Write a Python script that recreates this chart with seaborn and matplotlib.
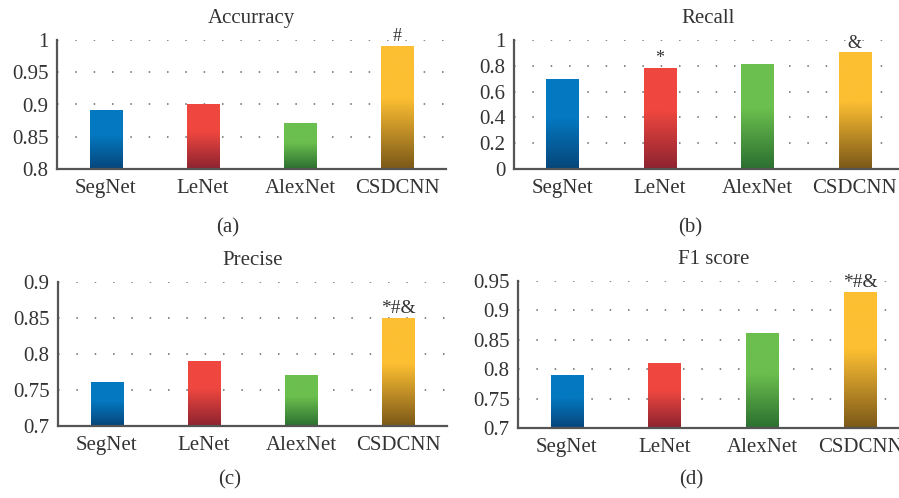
import numpy as np
import pandas as pd
import matplotlib
matplotlib.use("Agg")
import matplotlib.pyplot as plt
import seaborn as sns
from matplotlib.colors import to_rgb

# Model names and scores for each metric
models = ["SegNet", "LeNet", "AlexNet", "CSDCNN"]
accuracy = [0.89, 0.90, 0.87, 0.99]
recall = [0.69, 0.78, 0.81, 0.90]
precise = [0.76, 0.79, 0.77, 0.85]
f1_score = [0.79, 0.81, 0.86, 0.93]

# Significance marks above bars (per metric, per model)
acc_marks = ["", "", "", "#"]
rec_marks = ["", "*", "", "&"]
pre_marks = ["", "", "", "*#&"]
f1_marks = ["", "", "", "*#&"]

# Y-axis ticks per metric
acc_ticks = [0.8, 0.85, 0.9, 0.95, 1.0]
acc_tick_labels = ["0.8", "0.85", "0.9", "0.95", "1"]
rec_ticks = [0, 0.2, 0.4, 0.6, 0.8, 1.0]
rec_tick_labels = ["0", "0.2", "0.4", "0.6", "0.8", "1"]
pre_ticks = [0.7, 0.75, 0.8, 0.85, 0.9]
pre_tick_labels = ["0.7", "0.75", "0.8", "0.85", "0.9"]
f1_ticks = [0.7, 0.75, 0.8, 0.85, 0.9, 0.95]
f1_tick_labels = ["0.7", "0.75", "0.8", "0.85", "0.9", "0.95"]

# Top (light) and bottom (dark) colours of each bar's gradient
top_colors = ["#0479c1", "#ef473f", "#6bbf4e", "#fdbf32"]
bottom_colors = ["#06457a", "#8d2330", "#2b6f30", "#7b5819"]

sns.set_theme(style="white")
plt.rcParams["font.family"] = ["Liberation Serif", "DejaVu Serif"]
plt.rcParams["text.color"] = "#333333"
plt.rcParams["xtick.color"] = "#333333"
plt.rcParams["ytick.color"] = "#333333"

fig = plt.figure(figsize=(8.99, 4.98), dpi=100)
W, H = 899.0, 498.0
FS = 15


def axes_px(left, right, top, bottom):
    return fig.add_axes([left / W, 1 - bottom / H, (right - left) / W, (bottom - top) / H])


def gradient_fill(ax, ylo):
    for i, p in enumerate(ax.patches):
        x0, w = p.get_x(), p.get_width()
        top = p.get_y() + p.get_height()
        base = max(p.get_y(), ylo)
        n = 200
        t = np.linspace(0, 1, n)[:, None]
        ramp = np.clip(t / 0.58, 0, 1)
        c0 = np.array(to_rgb(bottom_colors[i]))
        c1 = np.array(to_rgb(top_colors[i]))
        img = (c0 + (c1 - c0) * ramp)[:, None, :]
        ax.imshow(img, extent=[x0, x0 + w, base, top], origin="lower",
                  aspect="auto", zorder=2, interpolation="bilinear")
        p.set_facecolor("none")
        p.set_edgecolor("none")


def panel(ax, values, marks, ylim, ticks, tick_labels, title):
    df = pd.DataFrame({"model": models, "value": values})
    sns.barplot(data=df, x="model", y="value", ax=ax, width=0.33,
                color="#888888", saturation=1, zorder=2)
    gradient_fill(ax, ylim[0])
    ax.set_xlim(-0.5, 3.5)
    ax.set_ylim(*ylim)
    ax.set_yticks(ticks)
    ax.set_yticklabels(tick_labels)
    ax.set_xlabel("")
    ax.set_ylabel("")
    ax.tick_params(axis="y", labelsize=FS, length=0, pad=6)
    ax.tick_params(axis="x", labelsize=FS, length=0, pad=7)
    ax.yaxis.grid(True, linestyle=(0, (1, 11)), color="#666666", linewidth=1.1)
    ax.set_axisbelow(True)
    for s in ["top", "right"]:
        ax.spines[s].set_visible(False)
    for s in ["left", "bottom"]:
        ax.spines[s].set_color("#555555")
        ax.spines[s].set_linewidth(1.6)
    ax.set_title(title, fontsize=FS, pad=12)
    for i, m in enumerate(marks):
        if m:
            ax.annotate(m, (i, values[i]), xytext=(0, 1), textcoords="offset points",
                        ha="center", va="bottom", fontsize=14 if len(m) > 1 else 13)


ax_a = axes_px(57, 446, 40, 169)
panel(ax_a, accuracy, acc_marks, (0.8, 1.0), acc_ticks, acc_tick_labels, "Accurracy")

ax_b = axes_px(513.5, 903.5, 40, 169)
panel(ax_b, recall, rec_marks, (0, 1.0), rec_ticks, rec_tick_labels, "Recall")

ax_c = axes_px(58, 447, 282, 426)
panel(ax_c, precise, pre_marks, (0.7, 0.9), pre_ticks, pre_tick_labels, "Precise")

ax_d = axes_px(518, 909, 281, 428)
panel(ax_d, f1_score, f1_marks, (0.7, 0.95), f1_ticks, f1_tick_labels, "F1 score")

for lab, x, y in [("(a)", 228, 228), ("(b)", 690, 228), ("(c)", 230, 480), ("(d)", 691, 480)]:
    fig.text(x / W, 1 - y / H, lab, ha="center", va="center", fontsize=FS)

fig.savefig("out.png", dpi=100)
